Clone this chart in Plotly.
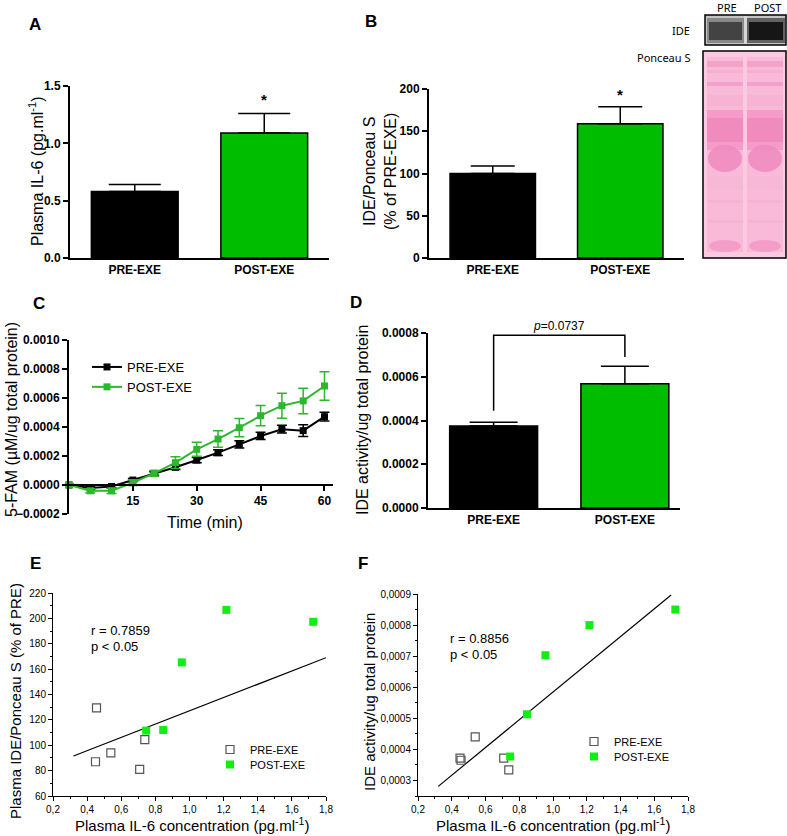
import plotly.graph_objects as go

W, H = 787, 836


def px(x):
    return x / W


def py(y):
    return 1 - y / H


# ---- data ----
groups = ['PRE-EXE', 'POST-EXE']
il6_mean = [0.58, 1.09]
il6_sem = [0.06, 0.17]
ide_pct_mean = [100, 159]
ide_pct_sem = [9, 20]
act_mean = [0.000375, 0.000568]
act_sem = [0.000017, 0.00008]

time_min = [0, 5, 10, 15, 20, 25, 30, 35, 40, 45, 50, 55, 60]
fam_pre = [0, -0.00002, -0.00001, 0.000034, 0.00008, 0.000122, 0.000172,
           0.000223, 0.00028, 0.000338, 0.000385, 0.000375, 0.000471]
fam_pre_sem = [0.000008, 0.00001, 0.00001, 0.00001, 0.000012, 0.000015, 0.000018,
               0.00002, 0.000025, 0.000025, 0.000027, 0.00004, 0.00003]
fam_post = [0, -0.00004, -0.00004, 0.000016, 0.00008, 0.000154, 0.000246,
            0.000317, 0.000395, 0.000478, 0.000547, 0.00058, 0.000683]
fam_post_sem = [0.000008, 0.000015, 0.000018, 0.00002, 0.00002, 0.00004, 0.000048,
                0.000057, 0.000063, 0.00007, 0.000086, 0.000088, 0.000098]

il6_pre = [0.449, 0.455, 0.539, 0.708, 0.738]
il6_post = [0.746, 0.846, 0.955, 1.216, 1.725]
idepct_pre = [87, 129.5, 94, 81, 104.5]
idepct_post = [111.5, 112, 165.3, 206.7, 197.3]
act_pre = [0.000372, 0.000365, 0.00044, 0.000372, 0.000334]
act_post = [0.000377, 0.000513, 0.000703, 0.0008, 0.00085]
fit_e_x = [0.32, 1.8]
fit_e_y = [91.5, 169]
fit_f_x = [0.32, 1.70]
fit_f_y = [0.000281, 0.000897]

BLACK = '#000000'
GREEN_BAR = '#00bd00'
GREEN_LINE = '#2cb82c'
GREEN_PT = '#11ee11'
FONT = 'Liberation Sans, Arial, sans-serif'

fig = go.Figure()

# A, B, D bars
for ax, mean, sem, cap in [('', il6_mean, il6_sem, 26), ('2', ide_pct_mean, ide_pct_sem, 22),
                           ('4', act_mean, act_sem, 24)]:
    fig.add_trace(go.Bar(
        x=groups, y=mean, width=0.67, xaxis='x' + ax, yaxis='y' + ax,
        marker=dict(color=[BLACK, GREEN_BAR], line=dict(color=BLACK, width=1.5)),
        error_y=dict(type='data', array=sem, arrayminus=[0, 0], symmetric=False,
                     color=BLACK, thickness=1.5, width=cap),
        showlegend=False, hoverinfo='skip'))

# D bracket
fig.add_trace(go.Scatter(
    x=[groups[0], groups[0], groups[1], groups[1]],
    y=[0.000445, 0.00079, 0.00079, 0.00069], xaxis='x4', yaxis='y4',
    mode='lines', line=dict(color=BLACK, width=1.5), cliponaxis=False,
    showlegend=False, hoverinfo='skip'))

# C time course
for name, vals, err, col in [('PRE-EXE', fam_pre, fam_pre_sem, BLACK),
                             ('POST-EXE', fam_post, fam_post_sem, GREEN_LINE)]:
    fig.add_trace(go.Scatter(
        x=time_min, y=vals, name=name, xaxis='x3', yaxis='y3', legend='legend',
        mode='lines+markers', line=dict(color=col, width=2),
        marker=dict(symbol='square', size=7, color=col),
        error_y=dict(type='data', array=err, color=col, thickness=1.5, width=5),
        cliponaxis=False))

# E, F scatter (one legend box per entry so rows sit tight like the original)
for ax, lg_pre, lg_post, ypre, ypost, fx, fy in [
        ('5', 'legend2', 'legend3', idepct_pre, idepct_post, fit_e_x, fit_e_y),
        ('6', 'legend4', 'legend5', act_pre, act_post, fit_f_x, fit_f_y)]:
    fig.add_trace(go.Scatter(
        x=fx, y=fy, xaxis='x' + ax, yaxis='y' + ax, mode='lines',
        line=dict(color=BLACK, width=1.2), showlegend=False, hoverinfo='skip'))
    fig.add_trace(go.Scatter(
        x=il6_pre, y=ypre, name='PRE-EXE', xaxis='x' + ax, yaxis='y' + ax, legend=lg_pre,
        mode='markers', marker=dict(symbol='square-open', size=8, color='#555555',
                                    line=dict(width=1.2)), cliponaxis=False))
    fig.add_trace(go.Scatter(
        x=il6_post, y=ypost, name='POST-EXE', xaxis='x' + ax, yaxis='y' + ax, legend=lg_post,
        mode='markers', marker=dict(symbol='square', size=8, color=GREEN_PT),
        cliponaxis=False))

bold_tick = dict(family=FONT, size=12, color=BLACK, weight='bold')
small_tick = dict(family=FONT, size=10, color=BLACK)


def bar_x(x0, x1, y, rng):
    return dict(domain=[px(x0), px(x1)], anchor='y' + y, range=rng, showline=True,
                linewidth=2, linecolor=BLACK, ticks='', tickfont=bold_tick,
                showgrid=False, zeroline=False, automargin=False)


def bold_y(y0, y1, x, rng, vals, fmt):
    return dict(domain=[py(y1), py(y0)], anchor='x' + x, range=rng, tickvals=vals,
                tickformat=fmt, showline=True, linewidth=2, linecolor=BLACK,
                ticks='outside', ticklen=5, tickwidth=2, tickcolor=BLACK,
                tickfont=bold_tick, showgrid=False, zeroline=False, automargin=False)


def thin_x(x0, x1, y):
    vals = [0.2, 0.4, 0.6, 0.8, 1.0, 1.2, 1.4, 1.6, 1.8]
    return dict(domain=[px(x0), px(x1)], anchor='y' + y, range=[0.2, 1.8],
                tickvals=vals, ticktext=[f'{v:.1f}'.replace('.', ',') for v in vals],
                showline=True, linewidth=1, linecolor=BLACK, ticks='outside', ticklen=4,
                tickcolor=BLACK, tickfont=small_tick, showgrid=False, zeroline=False,
                automargin=False,
                minor=dict(tickmode='linear', tick0=0.1, dtick=0.2, ticks='outside',
                           ticklen=2, tickcolor=BLACK))


def leg(x, y, size):
    return dict(x=px(x), y=py(y), xanchor='left', yanchor='top',
                font=dict(family=FONT, size=size), bgcolor='rgba(0,0,0,0)',
                tracegroupgap=0)


fig.update_layout(
    width=W, height=H, margin=dict(l=0, r=0, t=0, b=0, pad=0, autoexpand=False),
    paper_bgcolor='white', plot_bgcolor='white',
    font=dict(family=FONT, color=BLACK),
    xaxis=bar_x(70, 329, '', [-0.5, 1.5]),
    yaxis=bold_y(86, 258, '', [0, 1.5], [0, 0.5, 1.0, 1.5], '.1f'),
    xaxis2=bar_x(429, 684, '2', [-0.5, 1.5]),
    yaxis2=bold_y(89, 258, '2', [0, 200], [0, 50, 100, 150, 200], 'd'),
    xaxis3=dict(domain=[px(69), px(333)], anchor='free', position=py(485), range=[0, 62],
                tickvals=[15, 30, 45, 60], showline=True, linewidth=2, linecolor=BLACK,
                ticks='outside', ticklen=5, tickwidth=2, tickcolor=BLACK,
                tickfont=bold_tick, showgrid=False, zeroline=False, automargin=False),
    yaxis3=bold_y(340, 514, '3', [-0.0002, 0.0010],
                  [-0.0002, 0, 0.0002, 0.0004, 0.0006, 0.0008, 0.0010], '.4f'),
    xaxis4=bar_x(428, 680, '4', [-0.5, 1.42]),
    yaxis4=bold_y(333, 508, '4', [0, 0.0008], [0, 0.0002, 0.0004, 0.0006, 0.0008], '.4f'),
    xaxis5=thin_x(53, 326, '5'),
    yaxis5=dict(domain=[py(796), py(593)], anchor='x5', range=[60, 220],
                tickvals=list(range(60, 221, 20)), showline=True, linewidth=1,
                linecolor=BLACK, ticks='outside', ticklen=4, tickcolor=BLACK,
                tickfont=small_tick, showgrid=False, zeroline=False, automargin=False,
                minor=dict(tickmode='linear', tick0=70, dtick=20, ticks='outside',
                           ticklen=2, tickcolor=BLACK)),
    xaxis6=thin_x(418, 688, '6'),
    yaxis6=dict(domain=[py(796), py(594)], anchor='x6', range=[0.00025, 0.0009],
                tickvals=[0.0003, 0.0004, 0.0005, 0.0006, 0.0007, 0.0008, 0.0009],
                ticktext=['0,0003', '0,0004', '0,0005', '0,0006', '0,0007', '0,0008', '0,0009'],
                showline=True, linewidth=1, linecolor=BLACK, ticks='outside', ticklen=4,
                tickcolor=BLACK, tickfont=small_tick, showgrid=False, zeroline=False,
                automargin=False,
                minor=dict(tickmode='linear', tick0=0.00025, dtick=0.0001, ticks='outside',
                           ticklen=2, tickcolor=BLACK)),
    legend=leg(87, 352, 13),
    legend2=leg(210, 735, 11),
    legend3=leg(210, 750, 11),
    legend4=leg(574, 727, 11),
    legend5=leg(574, 742, 11),
)

ann = []


def label(x, y, text, size, bold=False, angle=0, xanchor='center', **kw):
    ann.append(dict(x=px(x), y=py(y), xref='paper', yref='paper', text=text,
                    showarrow=False, textangle=angle, xanchor=xanchor, yanchor='middle',
                    font=dict(family=kw.pop('family', FONT), size=size, color=BLACK,
                              weight='bold' if bold else 'normal'), **kw))


for letter, x, y in [('A', 35, 24), ('B', 371, 22), ('C', 39, 303), ('D', 356, 302),
                     ('E', 35, 563), ('F', 363, 563)]:
    label(x, y, letter, 17, bold=True)

label(36, 171, 'Plasma IL-6 (pg.ml<sup>-1</sup>)', 16, angle=-90)
label(380, 172, 'IDE/Ponceau S<br>(% of PRE-EXE)', 16, angle=-90)
label(12, 420, '5-FAM (µM/ug total protein)', 16, angle=-90)
label(205, 522, 'Time (min)', 16)
label(363, 420, 'IDE activity/ug total protein', 16, angle=-90)
label(15, 701, 'Plasma IDE/Ponceau S (% of PRE)', 15, angle=-90)
label(192, 824, 'Plasma IL-6 concentration (pg.ml<sup>-1</sup>)', 15)
label(369, 702, 'IDE activity/ug total protein', 15, angle=-90)
label(553, 824, 'Plasma IL-6 concentration (pg.ml<sup>-1</sup>)', 15)
label(89, 630, 'r = 0.7859', 13, xanchor='left')
label(89, 646, 'p &lt; 0.05', 13, xanchor='left')
label(448, 638, 'r = 0.8856', 13, xanchor='left')
label(448, 654, 'p &lt; 0.05', 13, xanchor='left')

# blot labels
blot_font = 'Noto Sans, Open Sans, sans-serif'
label(727, 7, 'PRE', 11, family=blot_font)
label(767, 7, 'POST', 11, family=blot_font)
label(692, 30, 'IDE', 11, xanchor='right', family=blot_font)
label(692, 58, 'Ponceau S', 11, xanchor='right', family=blot_font)

# significance marks
ann.append(dict(x=groups[1], y=il6_mean[1] + il6_sem[1], xref='x', yref='y', text='*',
                showarrow=False, yshift=14, font=dict(size=15, weight='bold')))
ann.append(dict(x=groups[1], y=ide_pct_mean[1] + ide_pct_sem[1], xref='x2', yref='y2',
                text='*', showarrow=False, yshift=12, font=dict(size=15, weight='bold')))
ann.append(dict(x=0.5, y=0.00079, xref='x4', yref='y4', text='<i>p</i>=0.0737',
                showarrow=False, yshift=9, font=dict(size=12)))
fig.update_layout(annotations=ann)

# western blot picture drawn with shapes (pixel boxes)
shapes = []


def rect(x0, y0, x1, y1, fill, opacity=1, line=None, kind='rect'):
    shapes.append(dict(type=kind, xref='paper', yref='paper', x0=px(x0), x1=px(x1),
                       y0=py(y1), y1=py(y0), fillcolor=fill, opacity=opacity,
                       line=line or dict(width=0), layer='above'))


rect(705, 15, 786, 45, '#c4c4c4')
for lx0, lx1, outer, inner in [(707, 744, '#7a7a7a', '#3c3c3c'), (747, 785, '#4a4a4a', '#0e0e0e')]:
    rect(lx0, 18, lx1, 43, outer, 0.8)
    rect(lx0 + 2, 22, lx1 - 2, 40, inner, 0.9)
rect(744, 16, 747, 44, '#d8d8d8', 0.9)
rect(705, 15, 786, 45, 'rgba(0,0,0,0)', line=dict(color=BLACK, width=1.5))

rect(703, 51, 786, 258, '#fcc8e2')
bands = [(57, 252, '#f9b9d9', 1), (61, 67, '#f29cc6', 0.8), (70, 73, '#f6aed1', 0.8),
         (82, 86, '#f19bc5', 0.8), (95, 106, '#f6b0d2', 0.7), (110, 150, '#f395c4', 0.85),
         (118, 142, '#ee80b8', 0.6),
         (176, 190, '#f7b7d6', 0.7), (200, 203, '#f5afd0', 0.6), (220, 223, '#f5afd0', 0.6)]
for lx0, lx1 in [(707, 743), (747, 783)]:
    for y0, y1, col, op in bands:
        rect(lx0, y0, lx1, y1, col, op)
    rect(lx0 + 1, 145, lx1 - 1, 172, '#f089be', 0.85, kind='circle')
    rect(lx0 + 2, 240, lx1 - 2, 252, '#f39ac6', 0.9, kind='circle')
rect(703, 51, 786, 258, 'rgba(0,0,0,0)', line=dict(color=BLACK, width=1.5))
fig.update_layout(shapes=shapes)

# the page body keeps an 8px margin by default; drop it so the figure sits at 0,0
fig.write_html('out.html', config={'displayModeBar': False},
               post_script="document.body.style.margin='0';")
